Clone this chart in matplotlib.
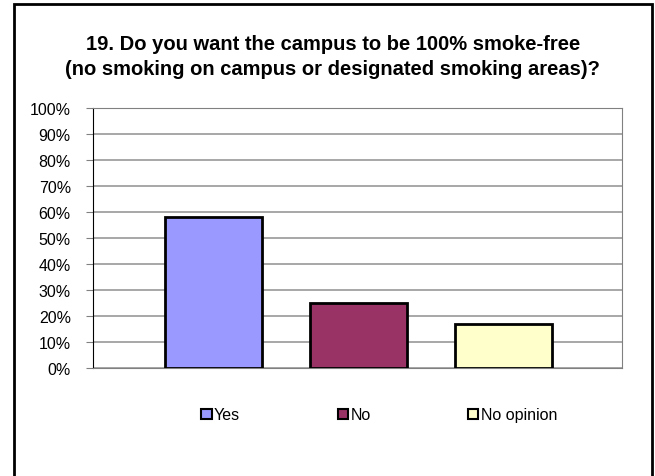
import matplotlib.pyplot as plt
from matplotlib.patches import Patch, Rectangle
from matplotlib.ticker import PercentFormatter

plt.rcParams['font.family'] = ['Liberation Sans', 'DejaVu Sans']
plt.rcParams['font.size'] = 11.5

categories = ['Yes', 'No', 'No opinion']
values = [58, 25, 17]
colors = ['#9999FF', '#993366', '#FFFFCC']
yticks = list(range(0, 101, 10))

fig = plt.figure(figsize=(6.55, 4.77), dpi=100)

# outer chart frame
fig.patches.append(Rectangle((14 / 655, -0.05), (652 - 14) / 655, 1.05 - 5 / 477,
                             transform=fig.transFigure, fill=False,
                             edgecolor='black', linewidth=2))

ax = fig.add_axes([93 / 655, 1 - 369 / 477, (622 - 93) / 655, (369 - 109) / 477])
x = range(len(categories))
ax.bar(x, values, width=0.67, color=colors, edgecolor='black', linewidth=2, zorder=3)
ax.set_xlim(-0.83, 2.82)
ax.set_ylim(0, 100)
ax.set_yticks(yticks)
ax.yaxis.set_major_formatter(PercentFormatter(decimals=0))
ax.set_xticks([])
ax.grid(axis='y', color='#a0a0a0', linewidth=1.3, zorder=0)
ax.tick_params(axis='y', length=5, color='#808080', pad=11)
ax.spines['left'].set_color('black')
for s in ['right', 'top', 'bottom']:
    ax.spines[s].set_color('#808080')

fig.text(0.508, 1 - 57 / 477,
         '19. Do you want the campus to be 100% smoke-free\n'
         '(no smoking on campus or designated smoking areas)?',
         ha='center', va='center', fontsize=14.5, fontweight='bold', linespacing=1.35)

handles = [Patch(facecolor=c, edgecolor='black', linewidth=1.5) for c in colors]
fig.legend(handles, categories, loc='center', bbox_to_anchor=(0.579, 1 - 416 / 477),
           ncol=3, frameon=False, handlelength=0.65, handleheight=0.65,
           handletextpad=0.15, columnspacing=6.1)

fig.savefig('out.png', dpi=100)
